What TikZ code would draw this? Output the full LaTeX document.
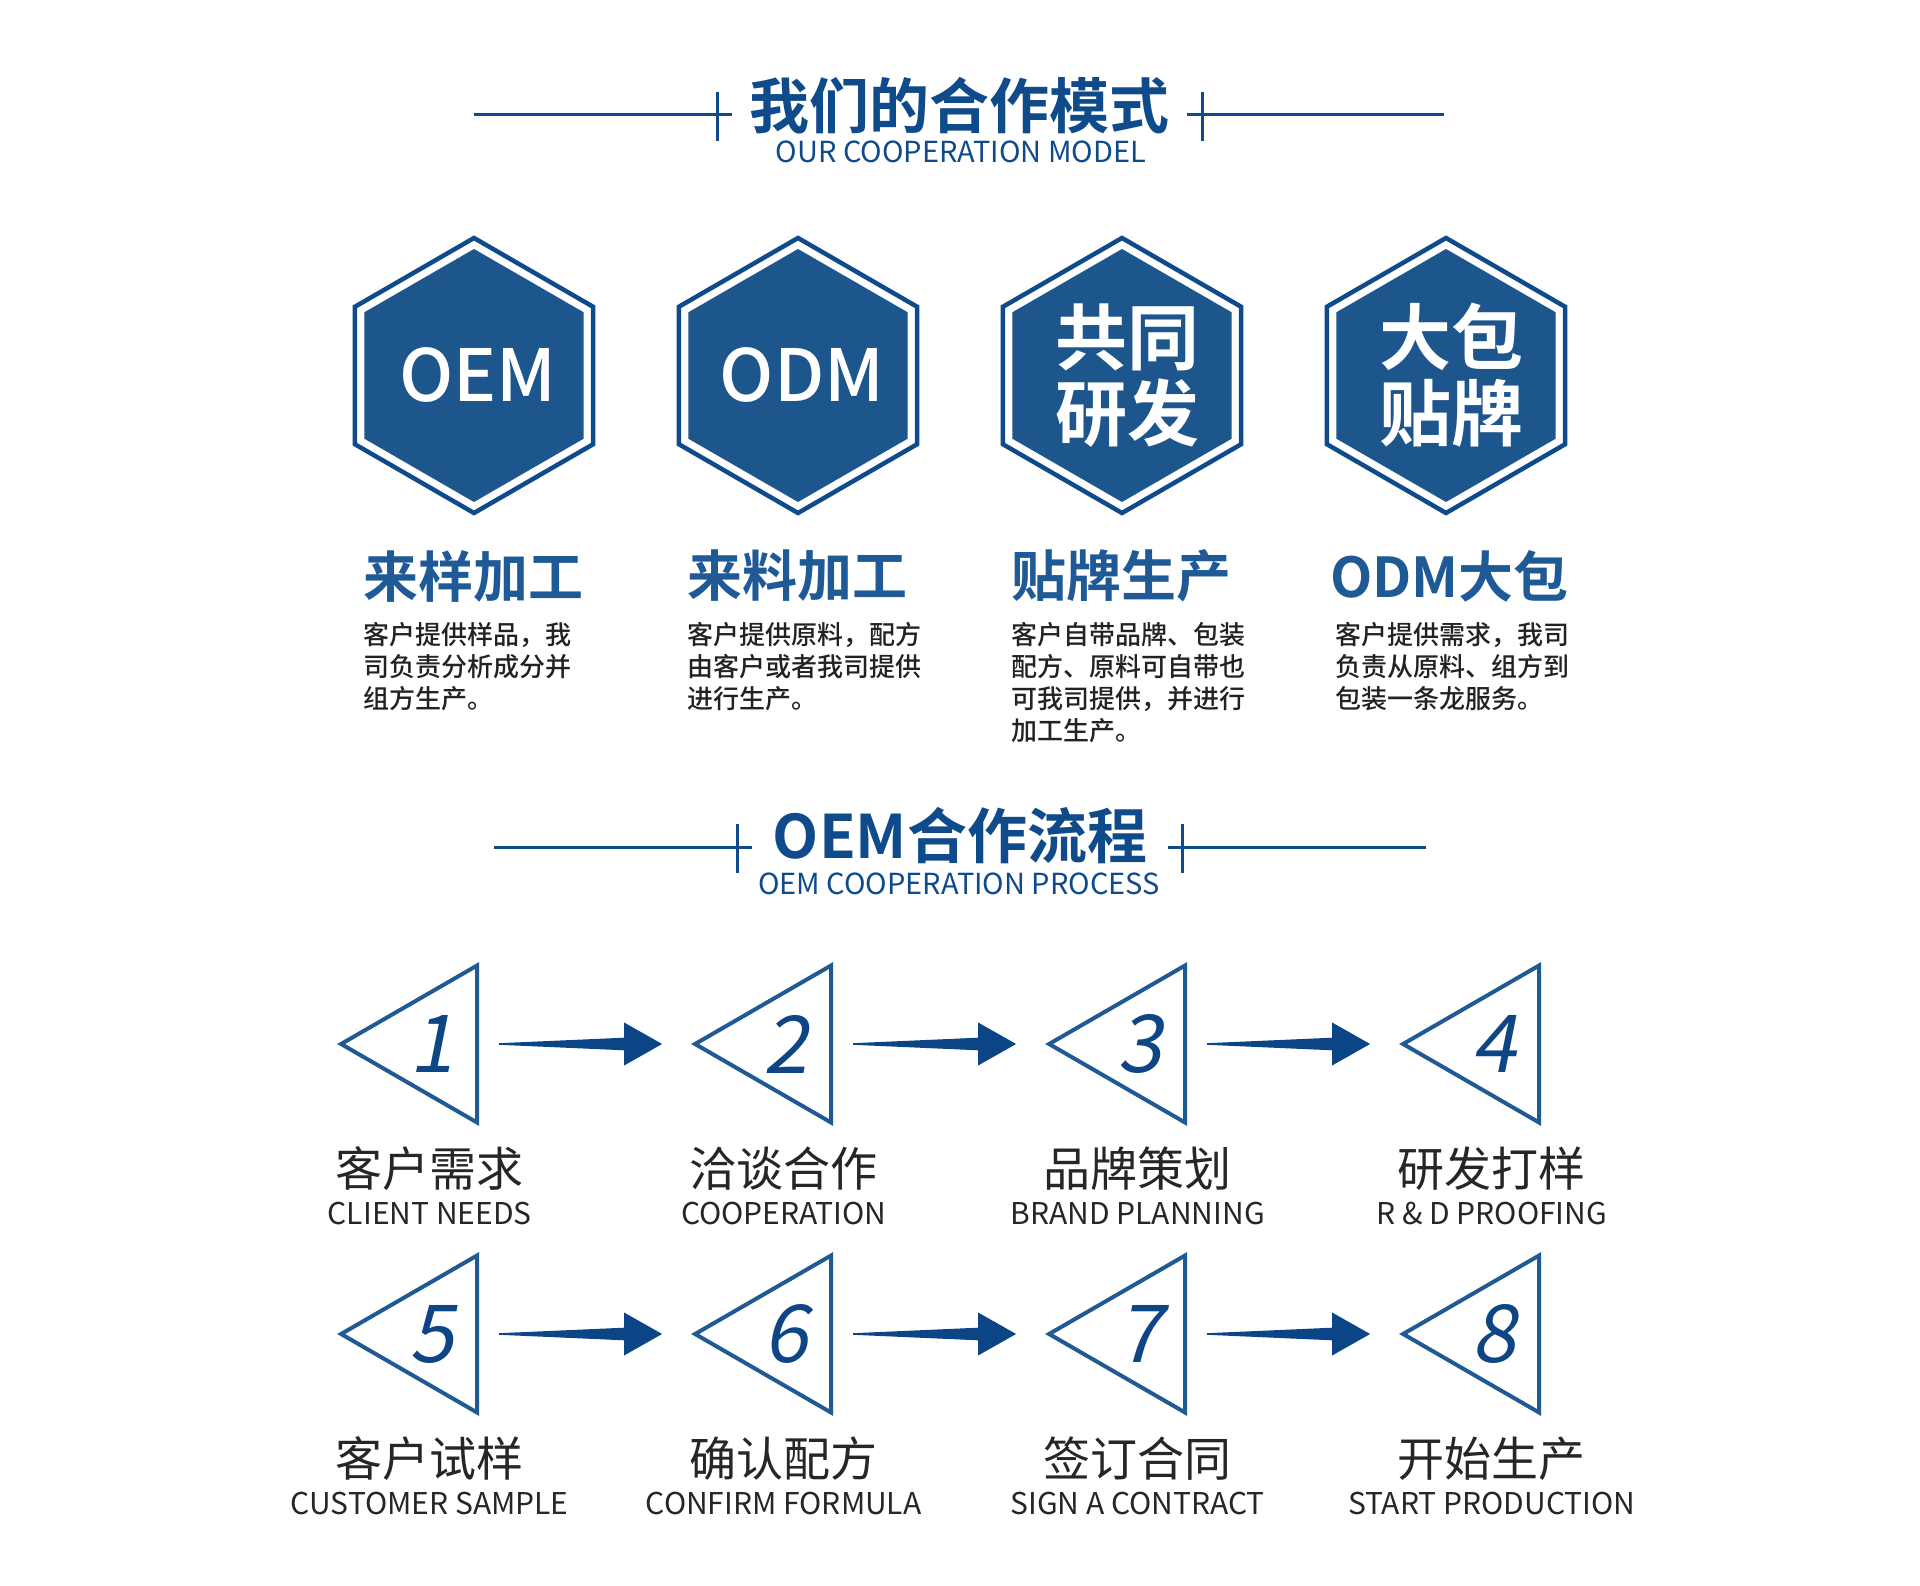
\documentclass[tikz,border=0pt]{standalone}
\usepackage{fontspec}
\setmainfont{Noto Sans CJK SC}
\IfFontExistsTF{Noto Sans CJK SC Bold}
  {\newfontfamily\heavyfont{Noto Sans CJK SC Bold}}
  {\newfontfamily\heavyfont{Noto Sans CJK SC}[FakeBold=3]}
\IfFontExistsTF{Noto Sans CJK SC Medium}
  {\newfontfamily\midfont{Noto Sans CJK SC Medium}}
  {\newfontfamily\midfont{Noto Sans CJK SC}[FakeBold=1.5]}
\newfontfamily\numfont{Noto Sans CJK SC}[FakeSlant=0.2]
\usetikzlibrary{calc}% arrow outlines
\definecolor{titleblue}{HTML}{0F4A8A}
\definecolor{hexline}{HTML}{0E4A8C}
\definecolor{hexfill}{HTML}{1D568D}
\definecolor{labelblue}{HTML}{1F5A97}
\definecolor{textdark}{HTML}{222222}
\definecolor{stepline}{HTML}{205A94}
\definecolor{numblue}{HTML}{0E4585}
\definecolor{arrowblue}{HTML}{0C4585}
\definecolor{steptext}{HTML}{262626}
\tikzset{every node/.style={inner sep=0pt, outer sep=0pt}}
\usetikzlibrary{shapes.geometric}% triangles

\begin{document}
\begin{tikzpicture}[x=1pt, y=-1pt,
  heading/.style={font=\heavyfont\fontsize{60}{60}\selectfont, text=titleblue},
  subheading/.style={font=\fontsize{29}{29}\selectfont, text=titleblue},
  rule/.style={titleblue, line width=3pt},
  hexring/.style={draw=hexline, line width=4.5pt},
  hexcore/.style={fill=hexfill},
  hexabbr/.style={text=white, font=\midfont\fontsize{72}{72}\selectfont},
  hexword/.style={text=white, align=center, font=\heavyfont\fontsize{72}{76}\selectfont},
  modetitle/.style={anchor=west, font=\heavyfont\fontsize{55}{55}\selectfont, text=labelblue},
  modetext/.style={anchor=north west, align=left, font=\midfont\fontsize{26}{32}\selectfont, text=textdark},
  stepbox/.style={regular polygon, regular polygon sides=3, shape border rotate=90,
    minimum size=181.2pt, draw=stepline, line width=4pt, text=numblue,
    font=\numfont\fontsize{80}{80}\selectfont},
  stepcn/.style={font=\fontsize{47}{47}\selectfont, text=steptext},
  stepen/.style={font=\fontsize{30}{30}\selectfont, text=steptext},
  flowarrow/.style={fill=arrowblue}]
      \fill[white] (0,0) rectangle (1920,1586);
      \useasboundingbox (0,0) rectangle (1920,1586);
      % headings
      \node[heading] (title1) at (959.5,105.5) {我们的合作模式};
      \node[subheading] (sub1) at (961,152) {OUR COOPERATION MODEL};
      \draw[rule] (474,115) -- (732,115);
      \draw[rule] (717,92) -- (717,141);
      \draw[rule] (1187,115) -- (1444,115);
      \draw[rule] (1202,92) -- (1202,141);
      \node[heading] (title2) at (960,835.5) {OEM合作流程};
      \node[subheading] (sub2) at (959,883.5) {OEM COOPERATION PROCESS};
      \draw[rule] (494,847) -- (752,847);
      \draw[rule] (737,824) -- (737,873);
      \draw[rule] (1168,847) -- (1426,847);
      \draw[rule] (1182,824) -- (1182,873);
      % cooperation models
      \foreach \k/\dx/\ttl/\desc in {
        0/111/来样加工/{客户提供样品，我\\司负责分析成分并\\组方生产。},
        1/111/来料加工/{客户提供原料，配方\\由客户或者我司提供\\进行生产。},
        2/111/贴牌生产/{客户自带品牌、包装\\配方、原料可自带也\\可我司提供，并进行\\加工生产。},
        3/116/ODM大包/{客户提供需求，我司\\负责从原料、组方到\\包装一条龙服务。}}{
        \pgfmathsetmacro\hx{474+324*\k}
        \coordinate (hc\k) at (\hx,375.5);
        \draw[hexring] (hc\k) +(90:137.5) -- +(150:137.5) -- +(210:137.5)
          -- +(270:137.5) -- +(330:137.5) -- +(30:137.5) -- cycle;
        \fill[hexcore] (hc\k) +(90:126.5) -- +(150:126.5) -- +(210:126.5)
          -- +(270:126.5) -- +(330:126.5) -- +(30:126.5) -- cycle;
        \node[modetitle] (mode\k) at (\hx-\dx,576) {\ttl};
        \node[modetext] (desc\k) at (\hx-111,622) {\desc};
      }
      \node[hexabbr] (word0) at ($(hc0)+(4,0)$) {OEM};
      \node[hexabbr] (word1) at ($(hc1)+(4,0)$) {ODM};
      \node[hexword] (word2) at ($(hc2)+(5,0)$) {共同\\研发};
      \node[hexword] (word3) at ($(hc3)+(5,0)$) {大包\\贴牌};
      % process steps
      \foreach \n/\cn/\en [count=\k from 0] in {1/客户需求/CLIENT NEEDS,
        2/洽谈合作/COOPERATION, 3/品牌策划/BRAND PLANNING, 4/研发打样/R \& D PROOFING,
        5/客户试样/CUSTOMER SAMPLE, 6/确认配方/CONFIRM FORMULA,
        7/签订合同/SIGN A CONTRACT, 8/开始生产/START PRODUCTION}{
        \pgfmathsetmacro\sx{431.7+354*mod(\k,4)}
        \pgfmathsetmacro\sy{1044+290*int(\k/4)}
        \node[stepbox] (s\n) at (\sx,\sy) {\n};
        \node[stepcn] (c\n) at (\sx-2,\sy+125) {\cn};
        \node[stepen] (e\n) at (\sx-2,\sy+169) {\en};
      }
      \foreach \i/\j in {1/2,2/3,3/4,5/6,6/7,7/8}
        \fill[flowarrow] let \p1=(s\i.east), \p2=(s\j.west) in
          ({\x1+22pt},{\y1+0.8pt}) -- ({\x2-71pt},{\y1+6.3pt}) -- ({\x2-71pt},{\y1+21.5pt})
          -- ({\x2-33pt},\y1) -- ({\x2-71pt},{\y1-21.5pt}) -- ({\x2-71pt},{\y1-6.3pt})
          -- ({\x1+22pt},{\y1-0.8pt}) -- cycle;
    \end{tikzpicture}
\end{document}
